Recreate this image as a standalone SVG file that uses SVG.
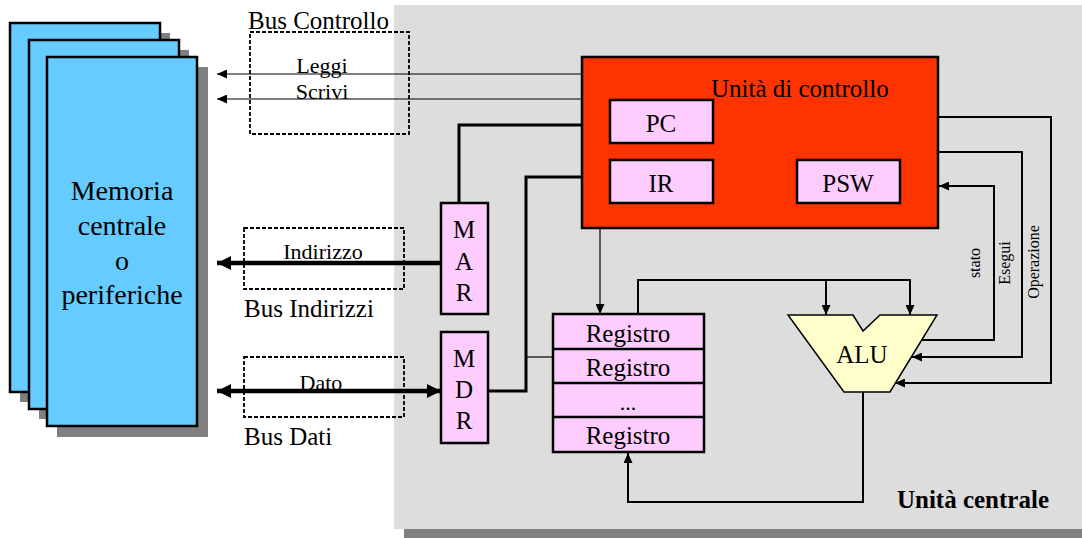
<svg xmlns="http://www.w3.org/2000/svg" width="1082" height="538" viewBox="0 0 1082 538" font-family="'Liberation Serif', 'Times New Roman', serif">
<style>
  text { font-family: "Liberation Serif", "Times New Roman", serif; fill: #000; }
  .card { fill: #66ccff; stroke: #000; stroke-width: 2.5; }
  .shadow { fill: #808080; }
  .reg { fill: #ffccff; stroke: #000; stroke-width: 2.5; }
  .dash { fill: none; stroke: #000; stroke-width: 1.8; stroke-dasharray: 4 2; }
  .thin { fill: none; stroke: #000; stroke-width: 1.2; }
  .med { fill: none; stroke: #000; stroke-width: 2; }
  .thick { fill: none; stroke: #000; stroke-width: 3; }
  .bus { fill: none; stroke: #000; stroke-width: 4.5; }
  .t25 { font-size: 25px; }
  .t22 { font-size: 22px; }
  .t16 { font-size: 16px; }
  .mem { font-size: 28px; }
</style>
<defs>
  <marker id="ah" markerUnits="userSpaceOnUse" markerWidth="10" markerHeight="9" refX="10" refY="4.5" orient="auto">
    <path d="M0,0 L10,4.5 L0,9 z" fill="#000"/>
  </marker>
  <marker id="ahb" markerUnits="userSpaceOnUse" markerWidth="14" markerHeight="14" refX="14" refY="7" orient="auto-start-reverse">
    <path d="M0,0 L14,7 L0,14 z" fill="#000"/>
  </marker>
</defs>

<!-- central unit panel -->
<g id="unita-centrale">
  <rect x="404" y="529" width="678" height="9" class="shadow"/>
  <rect x="394" y="5" width="688" height="524" fill="#dddddd"/>
  <text x="1049" y="508" class="t25" font-weight="bold" text-anchor="end">Unità centrale</text>
</g>

<!-- memory stack -->
<g id="memoria">
  <rect x="20" y="33" width="150" height="369" class="shadow"/>
  <rect x="10" y="23" width="150" height="369" class="card"/>
  <rect x="39" y="50" width="150" height="369" class="shadow"/>
  <rect x="29" y="40" width="150" height="369" class="card"/>
  <rect x="57" y="67" width="151" height="370" class="shadow"/>
  <rect x="47" y="57" width="150" height="369" class="card"/>
  <text x="122" y="200" class="mem" text-anchor="middle">Memoria</text>
  <text x="122" y="235" class="mem" text-anchor="middle">centrale</text>
  <text x="122" y="270" class="mem" text-anchor="middle">o</text>
  <text x="122" y="304" class="mem" text-anchor="middle">periferiche</text>
</g>

<!-- buses -->
<g id="bus-controllo">
  <rect x="250" y="32" width="159" height="102" class="dash"/>
  <text x="248" y="29" class="t25">Bus Controllo</text>
  <text x="322" y="73" class="t22" text-anchor="middle">Leggi</text>
  <text x="322" y="99" class="t22" text-anchor="middle">Scrivi</text>
</g>
<g id="bus-indirizzi">
  <rect x="244" y="228" width="160" height="61" class="dash"/>
  <text x="323" y="259" class="t22" text-anchor="middle">Indirizzo</text>
  <text x="244" y="317" class="t25">Bus Indirizzi</text>
</g>
<g id="bus-dati">
  <rect x="244" y="357" width="160" height="60" class="dash"/>
  <text x="321" y="390" class="t22" text-anchor="middle">Dato</text>
  <text x="244" y="445" class="t25">Bus Dati</text>
</g>

<!-- connectors -->
<g id="connectors">
  <path d="M582,74 H217" class="thin" marker-end="url(#ah)"/>
  <path d="M582,99 H217" class="thin" marker-end="url(#ah)"/>
  <path d="M441,263 H217" class="bus" marker-end="url(#ahb)"/>
  <path d="M217,391 H441" class="bus" marker-start="url(#ahb)" marker-end="url(#ahb)"/>
  <path d="M459,203 V125 H582" class="thick"/>
  <path d="M488,391 H526 V177 H582" class="thick"/>
  <path d="M526,357 H553" class="thin" stroke-width="1.5"/>
  <path d="M600,228 V314" class="thin" marker-end="url(#ah)"/>
  <path d="M638,314 V280 H910 V315" class="med" marker-end="url(#ah)"/>
  <path d="M826,280 V315" class="med" marker-end="url(#ah)"/>
  <path d="M938,117 H1051 V383 H895" class="med" marker-end="url(#ah)"/>
  <path d="M938,152 H1022 V357 H912" class="med" marker-end="url(#ah)"/>
  <path d="M921,340 H994 V186 H939" class="med" marker-end="url(#ah)"/>
  <path d="M863,392 V502 H628 V453" class="med" marker-end="url(#ah)"/>
  <text transform="translate(980,263) rotate(-90)" class="t16" text-anchor="middle">stato</text>
  <text transform="translate(1010,263) rotate(-90)" class="t16" text-anchor="middle">Esegui</text>
  <text transform="translate(1039,262) rotate(-90)" class="t16" text-anchor="middle">Operazione</text>
</g>

<!-- control unit -->
<g id="unita-controllo">
  <rect x="582" y="57" width="356" height="171" fill="#ff3300" stroke="#000" stroke-width="2.5"/>
  <text x="711" y="97" class="t25">Unità di controllo</text>
</g>
<g id="pc">
  <rect x="610" y="100" width="103" height="43" class="reg"/>
  <text x="661" y="132" class="t25" text-anchor="middle">PC</text>
</g>
<g id="ir">
  <rect x="610" y="160" width="103" height="43" class="reg"/>
  <text x="661" y="192" class="t25" text-anchor="middle">IR</text>
</g>
<g id="psw">
  <rect x="797" y="160" width="103" height="43" class="reg"/>
  <text x="848" y="192" class="t25" text-anchor="middle">PSW</text>
</g>

<!-- MAR / MDR -->
<g id="mar">
  <rect x="441" y="203" width="47" height="111" class="reg"/>
  <text x="464" y="238" class="t25" text-anchor="middle">M</text>
  <text x="464" y="270" class="t25" text-anchor="middle">A</text>
  <text x="464" y="301" class="t25" text-anchor="middle">R</text>
</g>
<g id="mdr">
  <rect x="441" y="332" width="47" height="111" class="reg"/>
  <text x="464" y="367" class="t25" text-anchor="middle">M</text>
  <text x="464" y="398" class="t25" text-anchor="middle">D</text>
  <text x="464" y="429" class="t25" text-anchor="middle">R</text>
</g>

<!-- registers -->
<g id="registri">
  <rect x="553" y="314" width="151" height="138" class="reg"/>
  <path d="M553,349 H704 M553,383 H704 M553,417 H704" fill="none" stroke="#000" stroke-width="2.5"/>
  <text x="628" y="342" class="t25" text-anchor="middle">Registro</text>
  <text x="628" y="376" class="t25" text-anchor="middle">Registro</text>
  <text x="628" y="410" class="t22" text-anchor="middle">...</text>
  <text x="628" y="444" class="t25" text-anchor="middle">Registro</text>
</g>

<!-- ALU -->
<g id="alu">
  <path d="M788,315 L853,315 L863,331 L880,315 L937,315 L890,392 L844,392 Z" fill="#ffffcc" stroke="#000" stroke-width="1.5"/>
  <text x="862" y="363" class="t25" text-anchor="middle">ALU</text>
</g>
</svg>
